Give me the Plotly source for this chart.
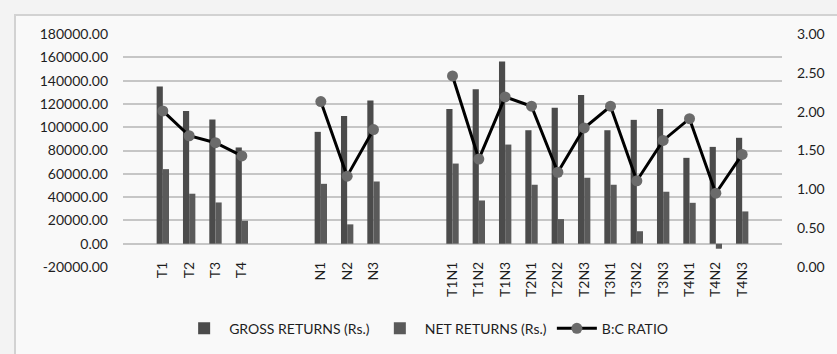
import plotly.graph_objects as go

categories = ["T1", "T2", "T3", "T4", " ", "  ", "N1", "N2", "N3", "   ", "    ",
              "T1N1", "T1N2", "T1N3", "T2N1", "T2N2", "T2N3",
              "T3N1", "T3N2", "T3N3", "T4N1", "T4N2", "T4N3"]
gross_returns = [135000, 114000, 106600, 82600, None, None, 96000, 109700, 122900, None, None,
                 115700, 132600, 156300, 97400, 116600, 127700,
                 97400, 106300, 115700, 73700, 83100, 90900]
net_returns = [64000, 42900, 35400, 19700, None, None, 51400, 16600, 53400, None, None,
               68800, 37100, 85100, 50600, 21100, 56600,
               50600, 10700, 44600, 35100, -4300, 27700]
bc_ratio = [2.01, 1.69, 1.60, 1.43, None, None, 2.13, 1.17, 1.77, None, None,
            2.46, 1.39, 2.19, 2.07, 1.22, 1.79,
            2.07, 1.11, 1.63, 1.91, 0.95, 1.45]

left_ticks = [-20000, 0, 20000, 40000, 60000, 80000, 100000, 120000, 140000, 160000, 180000]
left_tick_labels = ["-20000.00", "0.00", "20000.00", "40000.00", "60000.00", "80000.00",
                    "100000.00", "120000.00", "140000.00", "160000.00", "180000.00"]
right_ticks = [0, 0.5, 1.0, 1.5, 2.0, 2.5, 3.0]
right_tick_labels = ["0.00", "0.50", "1.00", "1.50", "2.00", "2.50", "3.00"]

W, H = 837, 354
ML, MR, MT, MB = 123, 55, 34, 87
pw = W - ML - MR
ph = H - MT - MB

font = dict(family="Lato, Open Sans, sans-serif", size=14, color="#1e1e1e")

fig = go.Figure()
fig.add_trace(go.Bar(x=categories, y=gross_returns, name="GROSS RETURNS (Rs.)",
                     marker=dict(color="#4b4b4b", line=dict(width=0))))
fig.add_trace(go.Bar(x=categories, y=net_returns, name="NET RETURNS (Rs.)",
                     marker=dict(color="#5a5a5a", line=dict(width=0))))
fig.add_trace(go.Scatter(x=categories, y=bc_ratio, name="B:C RATIO", yaxis="y2",
                         mode="lines+markers", connectgaps=False,
                         line=dict(color="#000000", width=3),
                         marker=dict(color="#6b6b6b", size=11)))

# outer frame (decoration)
fig.add_shape(type="rect", xref="paper", yref="paper", layer="below",
              x0=(15 - ML) / pw, x1=(W + 20 - ML) / pw,
              y0=-(H + 20 - MT - ph) / ph, y1=1 + (MT - 15) / ph,
              line=dict(color="#d2d2d2", width=2), fillcolor="#f9f9f9")

fig.update_layout(
    width=W, height=H,
    margin=dict(l=ML, r=MR, t=MT, b=MB, autoexpand=False),
    paper_bgcolor="#f3f3f3", plot_bgcolor="rgba(0,0,0,0)",
    font=font,
    barmode="group", bargap=0.53, bargroupgap=0,
    showlegend=True,
    legend=dict(orientation="h", x=0.46, xanchor="center", y=-0.265, yanchor="middle",
                bgcolor="rgba(0,0,0,0)", font=dict(size=14), itemwidth=40,
                traceorder="normal"),
    xaxis=dict(type="category", categoryorder="array", categoryarray=categories,
               tickangle=-90, showgrid=False, zeroline=False, showline=False,
               ticks="", ticklabelstandoff=-9, tickfont=dict(size=14),
               automargin=False),
    yaxis=dict(range=[-20000, 180000], tickmode="array", tickvals=left_ticks,
               ticktext=left_tick_labels, automargin=False,
               showgrid=True, gridcolor="#c6c6c6", gridwidth=1.5,
               zeroline=False, showline=False, ticks="", ticklabelstandoff=14),
    yaxis2=dict(range=[0, 3], tickmode="array", tickvals=right_ticks,
                ticktext=right_tick_labels, overlaying="y", automargin=False,
                side="right", showgrid=False, zeroline=False, showline=False,
                ticks="", ticklabelstandoff=14),
)

fig.write_html("out.html")
